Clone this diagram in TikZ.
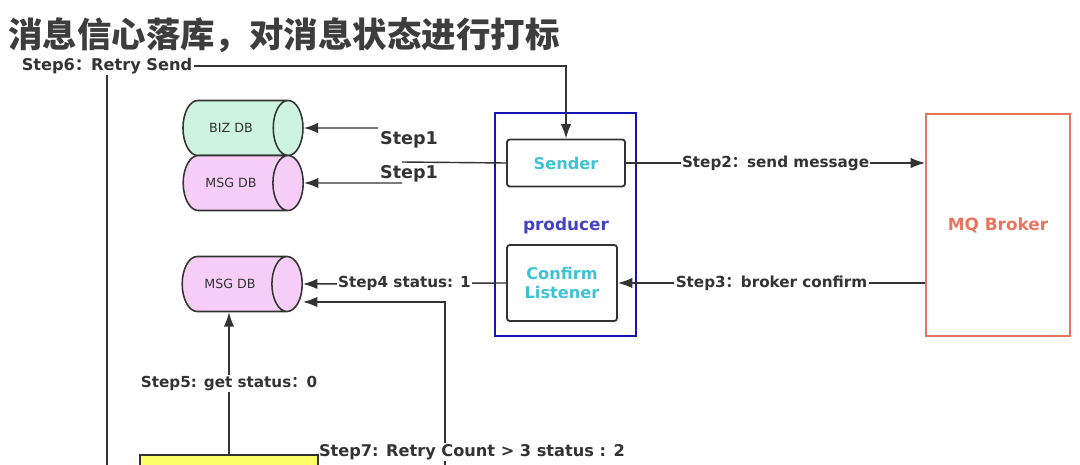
\documentclass[tikz,border=0pt]{standalone}
\usepackage{fontspec}
\setmainfont{DejaVu Sans}
\newfontfamily\cjk{Noto Sans CJK SC}
\usetikzlibrary{arrows.meta,shapes.geometric,calc}
\definecolor{linegray}{HTML}{333333}
\definecolor{titlegray}{HTML}{3D3D3D}
\definecolor{bizgreen}{HTML}{CDF3E1}
\definecolor{msgpink}{HTML}{F7CEF7}
\definecolor{unitcyan}{HTML}{3FC2D4}
\definecolor{prodblue}{HTML}{1414B0}
\definecolor{prodtext}{HTML}{4343C4}
\definecolor{brokerred}{HTML}{E8765E}
\definecolor{jobyellow}{HTML}{FFFF66}
\newcommand\fcolon{{\cjk ：}}
\tikzset{
	lbl/.style={fill=white, inner sep=1pt, text=linegray,
			font=\bfseries\fontsize{10.8}{12.5}\selectfont},
	db/.style={cylinder, draw=linegray, line width=1.1pt, aspect=1.6,
			minimum height=3cm, minimum width=1.375cm, text=linegray,
			font=\fontsize{9}{10}\selectfont},
	unit/.style={draw=linegray, rounded corners=2pt, line width=1.3pt,
			text=unitcyan, align=center,
			font=\bfseries\fontsize{11.5}{13}\selectfont}
}

\begin{document}
\begin{tikzpicture}[x=0.025cm, y=-0.025cm, >={Latex[length=3.6mm,width=2.6mm]},
		flow/.style={draw=linegray, line width=1pt}]
		\useasboundingbox (0,0) rectangle (1080,465);
		\clip (0,0) rectangle (1080,465);

		% Title
		\node[anchor=west, inner sep=0, text=titlegray, font=\cjk\bfseries\fontsize{24.5}{28}\selectfont] (title) at (8,35) {消息信心落库，对消息状态进行打标};

		% Databases
		\node[db, fill=bizgreen] (bizdb) at (231,128) {BIZ DB};
		\node[db, fill=msgpink] (msgdb) at (231,183) {MSG DB};
		\node[db, fill=msgpink] (msgdbb) at (230,284) {MSG DB};

		% Producer with sender and confirm listener
		\node[draw=prodblue, line width=1.4pt, minimum width=3.525cm, minimum height=5.575cm] (producer) at (565.5,224.5) {};
		\node[unit, minimum width=2.95cm, minimum height=1.175cm] (sender) at (566,163) {Sender};
		\node[text=prodtext, font=\bfseries\fontsize{12}{14}\selectfont] (prodlabel) at (566,226) {producer};
		\node[unit, minimum width=2.75cm, minimum height=1.9cm] (listener) at (562,283) {Confirm\\Listener};

		% Broker
		\node[draw=brokerred, line width=1.2pt, minimum width=3.6cm, minimum height=5.55cm, text=brokerred, font=\bfseries\fontsize{12}{14}\selectfont] (broker) at (998,225) {MQ Broker};

		% Retry job (cut at the bottom)
		\node[draw=linegray, fill=jobyellow, line width=1pt, minimum width=4.45cm, minimum height=1cm] (job) at (229,475) {};

		% Free ends
		\coordinate (sonetop) at (378,128);
		\coordinate (soneleft) at (402,162);
		\coordinate (sonelow) at (402,183);
		\coordinate (ssixbot) at (107,470);
		\coordinate (ssixturn) at (107,66);
		\coordinate (ssevbot) at (445,470);

		% Step1
		\draw[flow, ->] (sonetop) -- (bizdb.east);
		\draw[flow] (sender.west) -- (soneleft);
		\draw[flow, ->] (sonelow) -- (msgdb.east);
		\node[lbl, fill=none, font=\bfseries\fontsize{12.5}{14}\selectfont] (sonea) at (409,140) {Step1};
		\node[lbl, fill=none, font=\bfseries\fontsize{12.5}{14}\selectfont] (soneb) at (409,174) {Step1};

		% Step2 and Step3
		\draw[flow, ->] (sender.east) -- (sender.east -| broker.west) node[lbl, midway] {Step2\fcolon send message};
		\draw[flow, ->] (listener.east -| broker.west) -- (listener.east) node[lbl, midway] {Step3\fcolon broker confirm};

		% Step4 and Step5
		\draw[flow, ->] (listener.west) -- (msgdbb.east) node[lbl, midway] {Step4 status: 1};
		\draw[flow, ->] (job.north) -- (job.north |- msgdbb.south) node[lbl, midway] {Step5: get status\fcolon 0};

		% Step6
		\draw[flow, ->] (ssixbot) -- (ssixturn) -| (sender.north);
		\node[lbl, font=\bfseries\fontsize{11.5}{13}\selectfont] (ssix) at (ssixturn) {Step6\fcolon Retry Send};

		% Step7
		\draw[flow, ->] (ssevbot) |- ([yshift=-0.45cm]msgdbb.east);
		\node[lbl, anchor=west, inner xsep=0pt, font=\bfseries\fontsize{11.5}{13}\selectfont] (sseven) at ([yshift=1.5pt]job.north east) {Step7: Retry Count > 3 status : 2};
	\end{tikzpicture}
\end{document}
